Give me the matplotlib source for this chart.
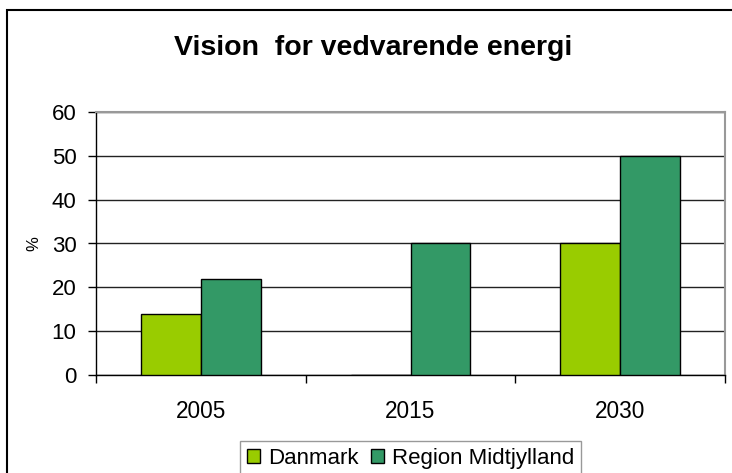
import numpy as np
import matplotlib
matplotlib.use("Agg")
import matplotlib.pyplot as plt
from matplotlib.patches import Rectangle

plt.rcParams['font.family'] = ['Liberation Sans', 'DejaVu Sans']

# data
years = ["2005", "2015", "2030"]
danmark = [14, 0, 30]
region_midt = [22, 30, 50]
yticks = [0, 10, 20, 30, 40, 50, 60]

W, H = 732, 473
fig = plt.figure(figsize=(W / 100, H / 100), dpi=100)

# plot area in pixel coordinates of the reference
left, right, top, bottom = 96, 725, 112, 375
ax = fig.add_axes([left / W, 1 - bottom / H, (right - left) / W, (bottom - top) / H])

x = np.arange(len(years))
bw = 0.286
ax.bar(x - bw / 2, danmark, bw, color='#99CC00', edgecolor='black', linewidth=1, zorder=3, label='Danmark')
ax.bar(x + bw / 2, region_midt, bw, color='#339966', edgecolor='black', linewidth=1, zorder=3,
       label='Region Midtjylland')

ax.set_ylim(0, 60)
ax.set_xlim(-0.5, len(years) - 0.5)
ax.set_yticks(yticks)
ax.yaxis.grid(True, color='#222222', linewidth=1, zorder=0)
ax.tick_params(axis='y', direction='out', length=6, width=1, labelsize=16, pad=8)

# category boundaries as major ticks, labels on minor ticks
ax.set_xticks(np.arange(len(years) + 1) - 0.5)
ax.set_xticklabels([])
ax.set_xticks(x, minor=True)
ax.set_xticklabels(years, minor=True)
ax.tick_params(axis='x', which='major', direction='out', length=6, width=1)
ax.tick_params(axis='x', which='minor', length=0, labelsize=16.3, pad=18)

for s in ['top', 'right']:
    ax.spines[s].set_color('#999999')
    ax.spines[s].set_linewidth(1.5)
for s in ['left', 'bottom']:
    ax.spines[s].set_color('black')
    ax.spines[s].set_linewidth(1)

ax.set_ylabel('%', fontsize=12)
ax.yaxis.set_label_coords((34 - left) / (right - left), 0.5)
ax.yaxis.label.set_va('center')

fig.text(373 / W, 1 - 55 / H, 'Vision  for vedvarende energi',
         ha='center', va='baseline', fontsize=20.5, fontweight='bold')

# outer chart border
fig.patches.append(Rectangle((7 / W, -0.1), 1, 1 - 10 / H + 0.1, transform=fig.transFigure,
                             fill=False, edgecolor='black', linewidth=1.5))

leg = fig.legend(loc='upper left', bbox_to_anchor=(240 / W, 1 - 441 / H), ncol=2,
                 fontsize=16, frameon=True, fancybox=False, handlelength=0.6, handleheight=0.55,
                 handletextpad=0.36, columnspacing=0.55, borderpad=0.3, borderaxespad=0)
leg.get_frame().set_edgecolor('#808080')
leg.get_frame().set_linewidth(1)

fig.savefig('out.png', dpi=100)
